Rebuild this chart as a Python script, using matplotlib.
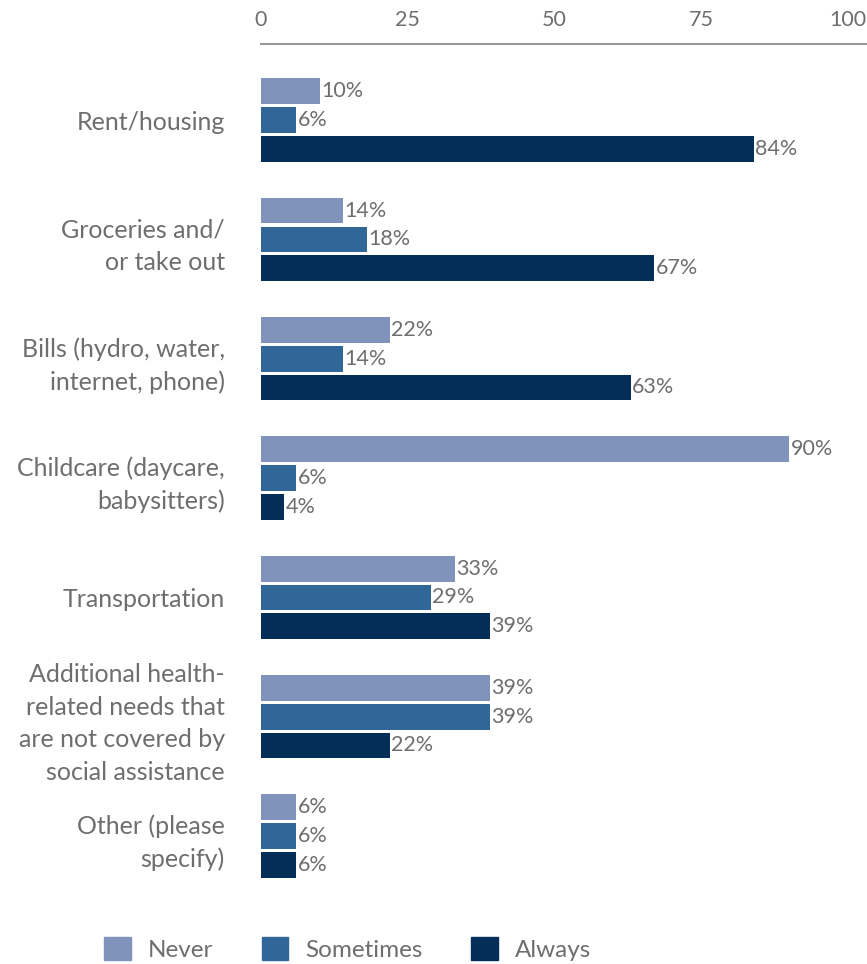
import matplotlib.pyplot as plt
from matplotlib.patches import Patch
import numpy as np

# datos ------
categorias = [
    "Rent/housing",
    "Groceries and/\nor take out",
    "Bills (hydro, water,\ninternet, phone)",
    "Childcare (daycare,\nbabysitters)",
    "Transportation",
    "Additional health-\nrelated needs that\nare not covered by\nsocial assistance",
    "Other (please\nspecify)",
]
series = ["Never", "Sometimes", "Always"]
never = [10, 14, 22, 90, 33, 39, 6]
sometimes = [6, 18, 14, 6, 29, 39, 6]
always = [84, 67, 63, 4, 39, 22, 6]
ticks = [0, 25, 50, 75, 100]

colores = ["#7f93bb", "#316699", "#022e57"]
gris = "#6e6e6e"

plt.rcParams['font.family'] = ['Lato', 'DejaVu Sans']

fig = plt.figure(figsize=(8.67, 9.64), dpi=100)
ax = fig.add_axes([261 / 867, 64 / 964, 606 / 867, 856 / 964])

y = np.arange(len(categorias))
paso = 0.2406
alto = 0.2154

for j, (nombre, vals) in enumerate(zip(series, [never, sometimes, always])):
    pos = y + (j - 1) * paso
    barras = ax.barh(pos, vals, height=alto, color=colores[j], label=nombre)
    for b, v in zip(barras, vals):
        ax.text(b.get_width() + 0.2, b.get_y() + b.get_height() / 2, f"{v}%",
                va='center', ha='left', fontsize=15.5, color=gris)

ax.set_xlim(0, 103.2)
ax.set_ylim(6.536, -0.637)

ax.xaxis.tick_top()
ax.set_xticks(ticks)
ax.set_xticklabels([str(t) for t in ticks])
ax.tick_params(axis='x', length=0, pad=10, labelsize=15.5, labelcolor=gris)

ax.set_yticks(y)
ax.set_yticklabels(categorias, linespacing=1.5)
ax.tick_params(axis='y', length=0, pad=26, labelsize=18, labelcolor=gris)

for lado in ['right', 'bottom', 'left']:
    ax.spines[lado].set_visible(False)
ax.spines['top'].set_color('#999999')
ax.spines['top'].set_linewidth(1.5)

handles = [Patch(color=c) for c in colores]
fig.legend(handles, series, loc='center', bbox_to_anchor=(0.401, 0.0156),
           ncol=3, frameon=False, fontsize=17.5, labelcolor=gris,
           handlelength=1.1, handleheight=1.1, handletextpad=0.7,
           columnspacing=2.0)

fig.savefig("out.png", dpi=100)
